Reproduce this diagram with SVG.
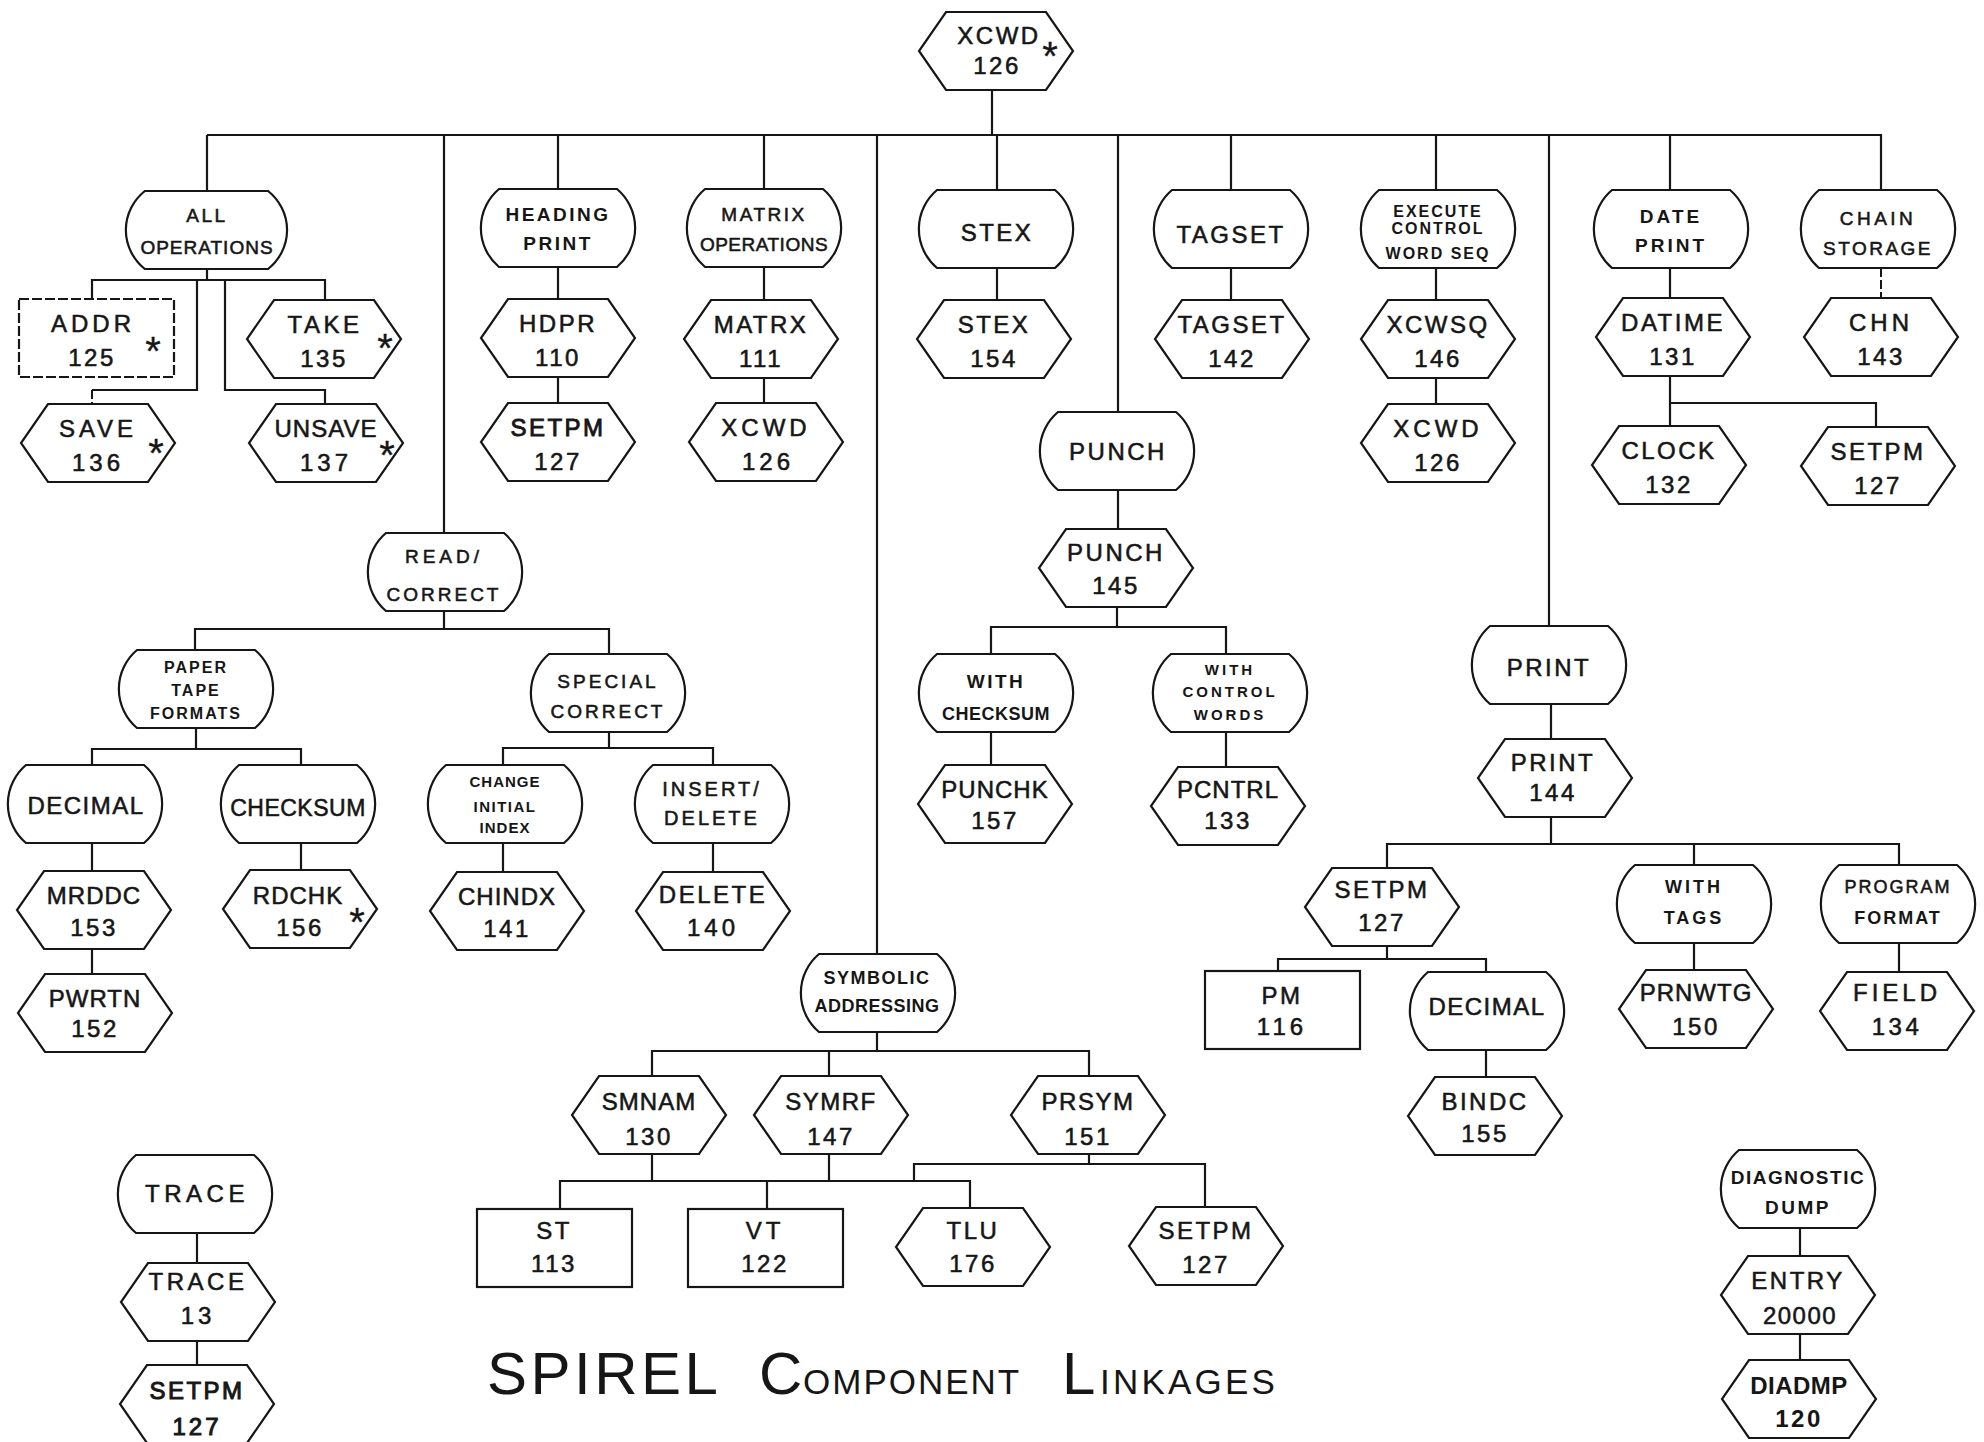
<svg xmlns="http://www.w3.org/2000/svg" width="1984" height="1442" viewBox="0 0 1984 1442">
<style>
.sh{fill:#fff;stroke:#161616;stroke-width:2.2}
.cn{fill:none;stroke:#161616;stroke-width:2.2}
.dc{fill:none;stroke:#161616;stroke-width:2;stroke-dasharray:9 3}
.lb{font-family:"Liberation Sans",Arial,sans-serif;font-size:24px;letter-spacing:2.5px;text-anchor:middle;fill:#161616;stroke:#161616;stroke-width:0.55px}
.sm{font-size:19px;letter-spacing:2.5px}
.xs{font-size:16px;letter-spacing:2px;font-weight:bold;stroke-width:0}
.b{font-weight:bold;stroke-width:0}
.ast{font-size:40px;letter-spacing:0;stroke-width:0.3px}
.tt{font-family:"Liberation Sans",Arial,sans-serif;fill:#161616}
</style>
<defs>
<path id="hex" d="M27,0 H127 L154,39 L127,78 H27 L0,39 Z" vector-effect="non-scaling-stroke"/>
<path id="term" d="M18,0 H136 A51,51 0 0 1 136,78 H18 A51,51 0 0 1 18,0 Z" vector-effect="non-scaling-stroke"/>
<rect id="box" width="155" height="78"/>
</defs>
<rect width="1984" height="1442" fill="#fff"/>
<g id="connectors">
<path class="cn" d="M992,89 V135 M207,135 H1881 V190 M207,135 V191 M444,135 V533 M558,135 V189 M764,135 V189 M877,135 V954 M997,135 V190 M1118,135 V412 M1231,135 V190 M1436,135 V190 M1549,135 V626 M1670,135 V190
M207,269 V280 M92,299 V280 H325 V300 M197,280 V390 H92 M225,280 V390 H325 V404
M558,268 V299 M558,378 V403 M764,268 V300 M764,378 V403 M997,268 V300 M1231,268 V300 M1436,268 V300 M1436,378 V404
M1670,268 V298 M1670,377 V426 M1670,403 H1876 V427
M1118,491 V529 M1117,607 V627 M991,654 V627 H1226 V654 M991,732 V765 M1226,732 V767
M444,610 V629 M195,650 V629 H609 V654 M196,728 V749 M92,765 V749 H301 V765
M92,844 V871 M301,843 V870 M92,949 V974
M609,731 V748 M503,765 V748 H713 V765 M503,843 V872 M713,843 V872
M1551,703 V739 M1551,818 V844 M1387,868 V844 H1899 V865 M1694,844 V865 M1694,944 V970 M1899,944 V972
M1387,946 V959 M1278,971 V959 H1486 V972 M1486,1050 V1077
M877,1033 V1051 M652,1076 V1051 H1089 V1076 M829,1051 V1076
M652,1155 V1181 M829,1155 V1181 M560,1209 V1181 H970 V1208 M767,1181 V1209
M1089,1154 V1164 M914,1181 V1164 H1205 V1207
M197,1234 V1263 M197,1339 V1365 M1800,1228 V1256 M1800,1333 V1360"/>
<path class="dc" d="M92,390 V404 M1881,268 V298"/>
</g>
<g id="n-xcwd-top"><use href="#hex" class="sh" x="919" y="12"/><text class="lb" x="999" y="44">XCWD</text><text class="lb" x="997" y="74">126</text><text class="lb ast" x="1050" y="70">*</text></g>
<g id="n-all-operations"><use href="#term" class="sh" transform="translate(126,191) scale(1.045,1)"/><text class="lb sm" x="207" y="222">ALL</text><text class="lb sm" style="letter-spacing:1px" x="207" y="254">OPERATIONS</text></g>
<g id="n-heading-print"><use href="#term" class="sh" x="481" y="189"/><text class="lb sm b" x="558" y="221">HEADING</text><text class="lb sm b" x="558" y="250">PRINT</text></g>
<g id="n-matrix-operations"><use href="#term" class="sh" x="687" y="189"/><text class="lb sm" x="764" y="221">MATRIX</text><text class="lb sm" style="letter-spacing:0.5px" x="764" y="251">OPERATIONS</text></g>
<g id="n-stex-t"><use href="#term" class="sh" x="919" y="190"/><text class="lb" x="997" y="241">STEX</text></g>
<g id="n-tagset-t"><use href="#term" class="sh" x="1154" y="190"/><text class="lb" x="1231" y="243">TAGSET</text></g>
<g id="n-execute"><use href="#term" class="sh" x="1361" y="190"/><text class="lb xs" x="1438" y="217">EXECUTE</text><text class="lb xs" x="1438" y="234">CONTROL</text><text class="lb xs" x="1438" y="259">WORD SEQ</text></g>
<g id="n-date-print"><use href="#term" class="sh" x="1594" y="190"/><text class="lb sm b" style="letter-spacing:3px" x="1671" y="223">DATE</text><text class="lb sm b" style="letter-spacing:3px" x="1671" y="252">PRINT</text></g>
<g id="n-chain-storage"><use href="#term" class="sh" x="1801" y="190"/><text class="lb sm" style="letter-spacing:3.5px" x="1878" y="225">CHAIN</text><text class="lb sm" x="1878" y="255">STORAGE</text></g>
<g id="n-addr"><use href="#box" class="sh" x="19" y="299" style="stroke-dasharray:10 3"/><text class="lb" style="letter-spacing:4px" x="93" y="332">ADDR</text><text class="lb" x="92" y="366">125</text><text class="lb ast" x="153" y="365">*</text></g>
<g id="n-take"><use href="#hex" class="sh" x="247" y="300"/><text class="lb" style="letter-spacing:3.5px" x="325" y="333">TAKE</text><text class="lb" x="324" y="367">135</text><text class="lb ast" x="385" y="362">*</text></g>
<g id="n-hdpr"><use href="#hex" class="sh" x="481" y="299"/><text class="lb" x="558" y="332">HDPR</text><text class="lb" x="558" y="366">110</text></g>
<g id="n-matrx"><use href="#hex" class="sh" x="684" y="300"/><text class="lb" x="761" y="333">MATRX</text><text class="lb" x="761" y="367">111</text></g>
<g id="n-stex-h"><use href="#hex" class="sh" x="917" y="300"/><text class="lb" x="994" y="333">STEX</text><text class="lb" x="994" y="367">154</text></g>
<g id="n-tagset-h"><use href="#hex" class="sh" x="1155" y="300"/><text class="lb" x="1232" y="333">TAGSET</text><text class="lb" x="1232" y="367">142</text></g>
<g id="n-xcwsq"><use href="#hex" class="sh" x="1361" y="300"/><text class="lb" x="1438" y="333">XCWSQ</text><text class="lb" x="1438" y="367">146</text></g>
<g id="n-datime"><use href="#hex" class="sh" x="1596" y="298"/><text class="lb" x="1673" y="331">DATIME</text><text class="lb" x="1673" y="365">131</text></g>
<g id="n-chn"><use href="#hex" class="sh" x="1804" y="298"/><text class="lb" style="letter-spacing:4px" x="1881" y="331">CHN</text><text class="lb" x="1881" y="365">143</text></g>
<g id="n-save"><use href="#hex" class="sh" x="21" y="404"/><text class="lb" style="letter-spacing:4px" x="98" y="437">SAVE</text><text class="lb" style="letter-spacing:4px" x="98" y="471">136</text><text class="lb ast" x="156" y="467">*</text></g>
<g id="n-unsave"><use href="#hex" class="sh" x="249" y="404"/><text class="lb" style="letter-spacing:1px" x="326" y="437">UNSAVE</text><text class="lb" style="letter-spacing:4px" x="326" y="471">137</text><text class="lb ast" x="387" y="469">*</text></g>
<g id="n-setpm-heading"><use href="#hex" class="sh" x="481" y="403"/><text class="lb" style="stroke-width:0.9px" x="558" y="436">SETPM</text><text class="lb" x="558" y="470">127</text></g>
<g id="n-xcwd-matrix"><use href="#hex" class="sh" x="689" y="403"/><text class="lb" style="letter-spacing:4px" x="766" y="436">XCWD</text><text class="lb" style="letter-spacing:4px" x="768" y="470">126</text></g>
<g id="n-punch-t"><use href="#term" class="sh" x="1040" y="412"/><text class="lb" x="1118" y="460">PUNCH</text></g>
<g id="n-xcwd-exec"><use href="#hex" class="sh" x="1361" y="404"/><text class="lb" style="letter-spacing:4px" x="1438" y="437">XCWD</text><text class="lb" x="1438" y="471">126</text></g>
<g id="n-clock"><use href="#hex" class="sh" x="1592" y="426"/><text class="lb" x="1669" y="459">CLOCK</text><text class="lb" x="1669" y="493">132</text></g>
<g id="n-setpm-date"><use href="#hex" class="sh" x="1801" y="427"/><text class="lb" x="1878" y="460">SETPM</text><text class="lb" x="1878" y="494">127</text></g>
<g id="n-read-correct"><use href="#term" class="sh" x="368" y="533"/><text class="lb sm" style="letter-spacing:4px" x="444" y="563">READ/</text><text class="lb sm" style="letter-spacing:3px" x="444" y="601">CORRECT</text></g>
<g id="n-punch-h"><use href="#hex" class="sh" x="1039" y="529"/><text class="lb" x="1116" y="561">PUNCH</text><text class="lb" x="1116" y="594">145</text></g>
<g id="n-print-t"><use href="#term" class="sh" x="1472" y="626"/><text class="lb" x="1549" y="676">PRINT</text></g>
<g id="n-paper-tape"><use href="#term" class="sh" x="119" y="650"/><text class="lb xs" x="196" y="673">PAPER</text><text class="lb xs" x="196" y="696">TAPE</text><text class="lb xs" x="196" y="719">FORMATS</text></g>
<g id="n-special-correct"><use href="#term" class="sh" x="531" y="654"/><text class="lb sm" style="letter-spacing:3px" x="608" y="688">SPECIAL</text><text class="lb sm" style="letter-spacing:3px" x="608" y="718">CORRECT</text></g>
<g id="n-with-checksum"><use href="#term" class="sh" x="919" y="654"/><text class="lb sm b" x="996" y="688">WITH</text><text class="lb sm b" style="font-size:18px;letter-spacing:0.5px" x="996" y="720">CHECKSUM</text></g>
<g id="n-with-control-words"><use href="#term" class="sh" x="1153" y="654"/><text class="lb xs" style="font-size:15px;letter-spacing:3px" x="1230" y="675">WITH</text><text class="lb xs" style="font-size:15px;letter-spacing:3px" x="1230" y="697">CONTROL</text><text class="lb xs" style="font-size:15px;letter-spacing:3px" x="1230" y="720">WORDS</text></g>
<g id="n-print-h"><use href="#hex" class="sh" x="1478" y="739"/><text class="lb" x="1553" y="771">PRINT</text><text class="lb" x="1553" y="801">144</text></g>
<g id="n-decimal-l"><use href="#term" class="sh" x="8" y="765"/><text class="lb" style="letter-spacing:1.5px" x="86" y="814">DECIMAL</text></g>
<g id="n-checksum"><use href="#term" class="sh" x="221" y="765"/><text class="lb" style="font-size:23px;letter-spacing:0.5px" x="298" y="816">CHECKSUM</text></g>
<g id="n-change-index"><use href="#term" class="sh" x="428" y="765"/><text class="lb xs" style="font-size:15px;letter-spacing:1px" x="505" y="787">CHANGE</text><text class="lb xs" style="font-size:15px;letter-spacing:1.5px" x="505" y="812">INITIAL</text><text class="lb xs" style="font-size:15px;letter-spacing:1px" x="505" y="833">INDEX</text></g>
<g id="n-insert-delete"><use href="#term" class="sh" x="635" y="765"/><text class="lb sm" style="font-size:20px;letter-spacing:3px" x="712" y="796">INSERT/</text><text class="lb sm" style="font-size:20px;letter-spacing:3px" x="712" y="825">DELETE</text></g>
<g id="n-punchk"><use href="#hex" class="sh" x="918" y="765"/><text class="lb" style="letter-spacing:1px" x="995" y="798">PUNCHK</text><text class="lb" x="995" y="829">157</text></g>
<g id="n-pcntrl"><use href="#hex" class="sh" x="1151" y="767"/><text class="lb" style="letter-spacing:1px" x="1228" y="798">PCNTRL</text><text class="lb" x="1228" y="829">133</text></g>
<g id="n-setpm-print"><use href="#hex" class="sh" x="1305" y="868"/><text class="lb" x="1382" y="898">SETPM</text><text class="lb" x="1382" y="931">127</text></g>
<g id="n-with-tags"><use href="#term" class="sh" x="1617" y="865"/><text class="lb sm b" style="font-size:18px;letter-spacing:3px" x="1694" y="893">WITH</text><text class="lb sm b" style="font-size:18px;letter-spacing:3px" x="1694" y="924">TAGS</text></g>
<g id="n-program-format"><use href="#term" class="sh" x="1821" y="865"/><text class="lb sm" style="font-size:18px;letter-spacing:2px" x="1898" y="893">PROGRAM</text><text class="lb sm b" style="font-size:18px;letter-spacing:2px" x="1898" y="924">FORMAT</text></g>
<g id="n-mrddc"><use href="#hex" class="sh" x="17" y="871"/><text class="lb" style="letter-spacing:1px" x="94" y="904">MRDDC</text><text class="lb" x="94" y="936">153</text></g>
<g id="n-rdchk"><use href="#hex" class="sh" x="223" y="870"/><text class="lb" style="letter-spacing:1px" x="298" y="904">RDCHK</text><text class="lb" x="300" y="936">156</text><text class="lb ast" x="357" y="936">*</text></g>
<g id="n-chindx"><use href="#hex" class="sh" x="430" y="872"/><text class="lb" style="letter-spacing:1px" x="507" y="905">CHINDX</text><text class="lb" x="507" y="937">141</text></g>
<g id="n-delete"><use href="#hex" class="sh" x="636" y="872"/><text class="lb" x="713" y="903">DELETE</text><text class="lb" style="letter-spacing:4px" x="713" y="936">140</text></g>
<g id="n-symbolic"><use href="#term" class="sh" x="801" y="954"/><text class="lb sm b" style="font-size:18px;letter-spacing:1.5px" x="877" y="984">SYMBOLIC</text><text class="lb sm b" style="font-size:18px;letter-spacing:0.5px" x="877" y="1012">ADDRESSING</text></g>
<g id="n-pm"><use href="#box" class="sh" x="1205" y="971"/><text class="lb" x="1282" y="1004">PM</text><text class="lb" style="letter-spacing:4px" x="1282" y="1035">116</text></g>
<g id="n-decimal-r"><use href="#term" class="sh" x="1410" y="972"/><text class="lb" style="letter-spacing:1.5px" x="1487" y="1015">DECIMAL</text></g>
<g id="n-prnwtg"><use href="#hex" class="sh" x="1619" y="970"/><text class="lb" style="letter-spacing:1px" x="1696" y="1001">PRNWTG</text><text class="lb" x="1696" y="1035">150</text></g>
<g id="n-field"><use href="#hex" class="sh" x="1820" y="972"/><text class="lb" style="letter-spacing:4px" x="1897" y="1001">FIELD</text><text class="lb" style="letter-spacing:3.5px" x="1897" y="1035">134</text></g>
<g id="n-pwrtn"><use href="#hex" class="sh" x="18" y="974"/><text class="lb" style="letter-spacing:1px" x="95" y="1007">PWRTN</text><text class="lb" x="95" y="1037">152</text></g>
<g id="n-bindc"><use href="#hex" class="sh" x="1408" y="1077"/><text class="lb" x="1485" y="1110">BINDC</text><text class="lb" x="1485" y="1142">155</text></g>
<g id="n-smnam"><use href="#hex" class="sh" x="572" y="1076"/><text class="lb" style="letter-spacing:1px" x="649" y="1110">SMNAM</text><text class="lb" x="649" y="1145">130</text></g>
<g id="n-symrf"><use href="#hex" class="sh" x="754" y="1076"/><text class="lb" style="letter-spacing:1.5px" x="831" y="1110">SYMRF</text><text class="lb" x="831" y="1145">147</text></g>
<g id="n-prsym"><use href="#hex" class="sh" x="1011" y="1076"/><text class="lb" style="letter-spacing:1.5px" x="1088" y="1110">PRSYM</text><text class="lb" x="1088" y="1145">151</text></g>
<g id="n-trace-t"><use href="#term" class="sh" x="118" y="1155"/><text class="lb" style="letter-spacing:4.5px" x="197" y="1202">TRACE</text></g>
<g id="n-diagnostic-dump"><use href="#term" class="sh" x="1721" y="1150"/><text class="lb sm b" style="letter-spacing:1.5px" x="1798" y="1184">DIAGNOSTIC</text><text class="lb sm b" style="letter-spacing:2.5px" x="1798" y="1214">DUMP</text></g>
<g id="n-st"><use href="#box" class="sh" x="477" y="1209"/><text class="lb" x="554" y="1239">ST</text><text class="lb" x="554" y="1272">113</text></g>
<g id="n-vt"><use href="#box" class="sh" x="688" y="1209"/><text class="lb" style="letter-spacing:4px" x="765" y="1239">VT</text><text class="lb" x="765" y="1272">122</text></g>
<g id="n-tlu"><use href="#hex" class="sh" x="896" y="1208"/><text class="lb" x="973" y="1239">TLU</text><text class="lb" x="973" y="1272">176</text></g>
<g id="n-setpm-prsym"><use href="#hex" class="sh" x="1129" y="1207"/><text class="lb" x="1206" y="1239">SETPM</text><text class="lb" x="1206" y="1273">127</text></g>
<g id="n-trace-13"><use href="#hex" class="sh" x="121" y="1263"/><text class="lb" style="letter-spacing:3.5px" x="198" y="1290">TRACE</text><text class="lb" style="letter-spacing:4px" x="198" y="1324">13</text></g>
<g id="n-entry"><use href="#hex" class="sh" x="1721" y="1256"/><text class="lb" x="1798" y="1289">ENTRY</text><text class="lb" style="letter-spacing:1.5px" x="1800" y="1324">20000</text></g>
<g id="n-setpm-trace"><use href="#hex" class="sh" x="120" y="1365"/><text class="lb" style="stroke-width:1px" x="197" y="1399">SETPM</text><text class="lb" style="letter-spacing:3px;stroke-width:1px" x="197" y="1435">127</text></g>
<g id="n-diadmp"><use href="#hex" class="sh" x="1722" y="1360"/><text class="lb b" style="letter-spacing:0.5px" x="1799" y="1394">DIADMP</text><text class="lb b" x="1799" y="1427">120</text></g>
<g id="title"><text class="tt" y="1394"><tspan x="487" font-size="60" letter-spacing="3.5">SPIREL </tspan><tspan x="759" font-size="60">C</tspan><tspan x="803" font-size="35" letter-spacing="2">OMPONENT </tspan><tspan x="1062" font-size="60">L</tspan><tspan x="1100" font-size="35" letter-spacing="3.2">INKAGES</tspan></text></g>
</svg>
